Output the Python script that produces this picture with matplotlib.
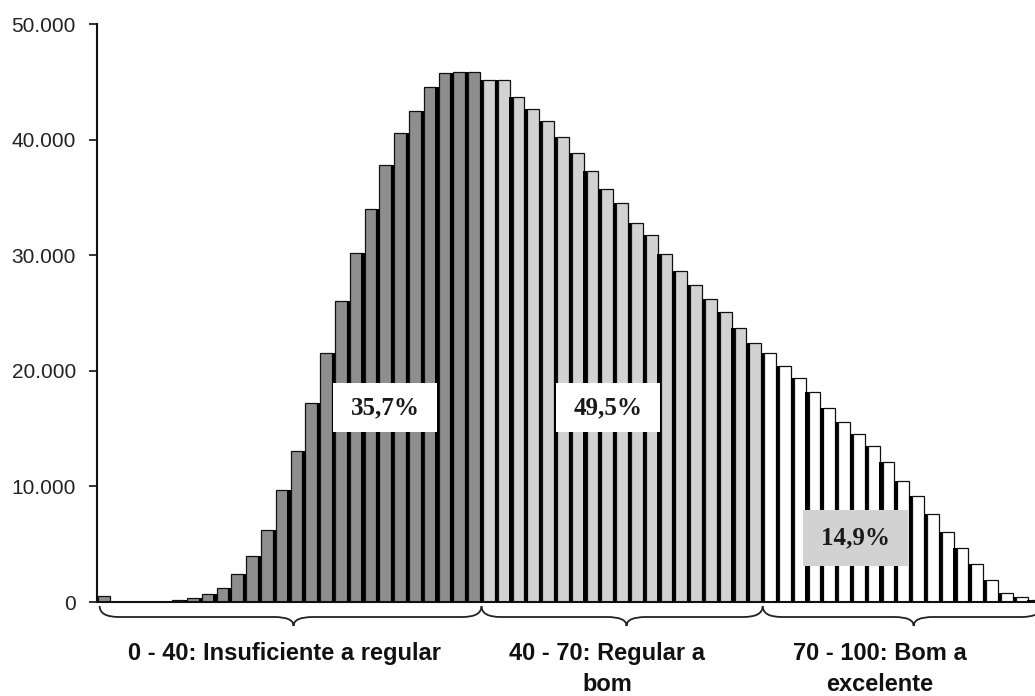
import matplotlib
matplotlib.use("Agg")
import matplotlib.pyplot as plt
import numpy as np
from matplotlib.patches import Rectangle, PathPatch
from matplotlib.path import Path
import matplotlib.transforms as mtransforms

# Number of students per score bin
counts = [
    500, 0, 0, 0, 0, 150, 370, 660, 1240, 2390,
    3950, 6200, 9660, 13100, 17200, 21560, 26040, 30160, 34000, 37800,
    40540, 42470, 44520, 45730, 45870, 45870,
    45150, 45150, 43660, 42620, 41610, 40200, 38810, 37280, 35700, 34490,
    32760, 31750, 30080, 28630, 27420, 26210, 25060, 23680, 22430,
    21570, 20420, 19350, 18190, 16760, 15550, 14510, 13500, 12080, 10490,
    9170, 7610, 6060, 4650, 3260, 1900, 800, 400, 150,
]

# Bins belonging to each performance band
group_sizes = [26, 19, 19]
group_colors = ["#8e8e8e", "#d2d2d2", "#ffffff"]
group_labels = [
    "0 - 40: Insuficiente a regular",
    "40 - 70: Regular a\nbom",
    "70 - 100: Bom a\nexcelente",
]
group_shares = ["35,7%", "49,5%", "14,9%"]

y_ticks = [0, 10000, 20000, 30000, 40000, 50000]
y_tick_labels = ["0", "10.000", "20.000", "30.000", "40.000", "50.000"]

W, H = 1035, 696
fig = plt.figure(figsize=(W / 100, H / 100), dpi=100)
fig.patch.set_facecolor("white")

ax_left = 96.7 / W
ax_bottom = 1 - 602 / H
ax_top = 1 - 24 / H
ax = fig.add_axes([ax_left, ax_bottom, 1 - ax_left, ax_top - ax_bottom])

pitch_px = 14.8
x = np.arange(len(counts))
h = np.array(counts, dtype=float)

colors = []
for size, col in zip(group_sizes, group_colors):
    colors += [col] * size

ax.bar(x, h, width=0.8, color=colors, edgecolor="#111111", linewidth=0.9, zorder=2)
# dark separators between neighbouring bars
gap_h = np.minimum(h[:-1], h[1:])
ax.bar(x[:-1] + 0.5, gap_h, width=0.22, color="#000000", linewidth=0, zorder=3)

ax.set_xlim(-0.5, -0.5 + (W - 96.7) / pitch_px)
ax.set_ylim(0, 50000)

ax.set_yticks(y_ticks)
ax.set_yticklabels(y_tick_labels, fontsize=15, fontfamily="Liberation Sans", color="#222222")
ax.tick_params(axis="y", length=6, width=1.2, pad=9, direction="out", color="#111111")
ax.set_xticks([])
for side in ["top", "right"]:
    ax.spines[side].set_visible(False)
for side in ["left", "bottom"]:
    ax.spines[side].set_linewidth(1.5)
    ax.spines[side].set_color("#111111")
ax.patch.set_alpha(0)

# Share boxes for each band
boxes = [
    (15.47, 22.5, 14700, 18950, "white"),
    (30.5, 37.56, 14700, 18950, "white"),
    (47.2, 54.3, 3100, 7950, "#d2d2d2"),
]
for (x0, x1, y0, y1, fc), share in zip(boxes, group_shares):
    ax.add_patch(Rectangle((x0, y0), x1 - x0, y1 - y0, facecolor=fc,
                           edgecolor="none", zorder=5))
    ax.text((x0 + x1) / 2, (y0 + y1) / 2, share, ha="center", va="center",
            fontsize=18, fontweight="bold", fontfamily="Liberation Serif",
            color="#1a1a1a", zorder=6)

# Curly braces under each band
trans = mtransforms.blended_transform_factory(ax.transData, ax.transAxes)
ax_h_px = 602 - 24
y0 = -4 / ax_h_px
y1 = -15 / ax_h_px
y2 = -24 / ax_h_px
d = 1.3
bounds = [-0.3, 25.5, 44.5, 63.3]
tips = [12.8, 35.3, 54.7]
for i, tip in enumerate(tips):
    a, b = bounds[i], bounds[i + 1]
    verts = [(a, y0), (a, y1), (a + d, y1), (tip - d, y1), (tip, y1), (tip, y2),
             (tip, y1), (tip + d, y1), (b - d, y1), (b, y1), (b, y0)]
    codes = [Path.MOVETO, Path.CURVE3, Path.CURVE3, Path.LINETO, Path.CURVE3,
             Path.CURVE3, Path.CURVE3, Path.CURVE3, Path.LINETO, Path.CURVE3,
             Path.CURVE3]
    ax.add_patch(PathPatch(Path(verts, codes), transform=trans, facecolor="none",
                           edgecolor="#222222", linewidth=1.3, clip_on=False))

# Band labels
label_x = [284, 607, 880]
line_base = [660, 691]
for lx, lab in zip(label_x, group_labels):
    for j, line in enumerate(lab.split("\n")):
        fig.text(lx / W, 1 - line_base[j] / H, line, ha="center", va="baseline",
                 fontsize=17, fontweight="bold", fontfamily="Liberation Sans",
                 color="#111111")

fig.savefig("out.png", dpi=100)
